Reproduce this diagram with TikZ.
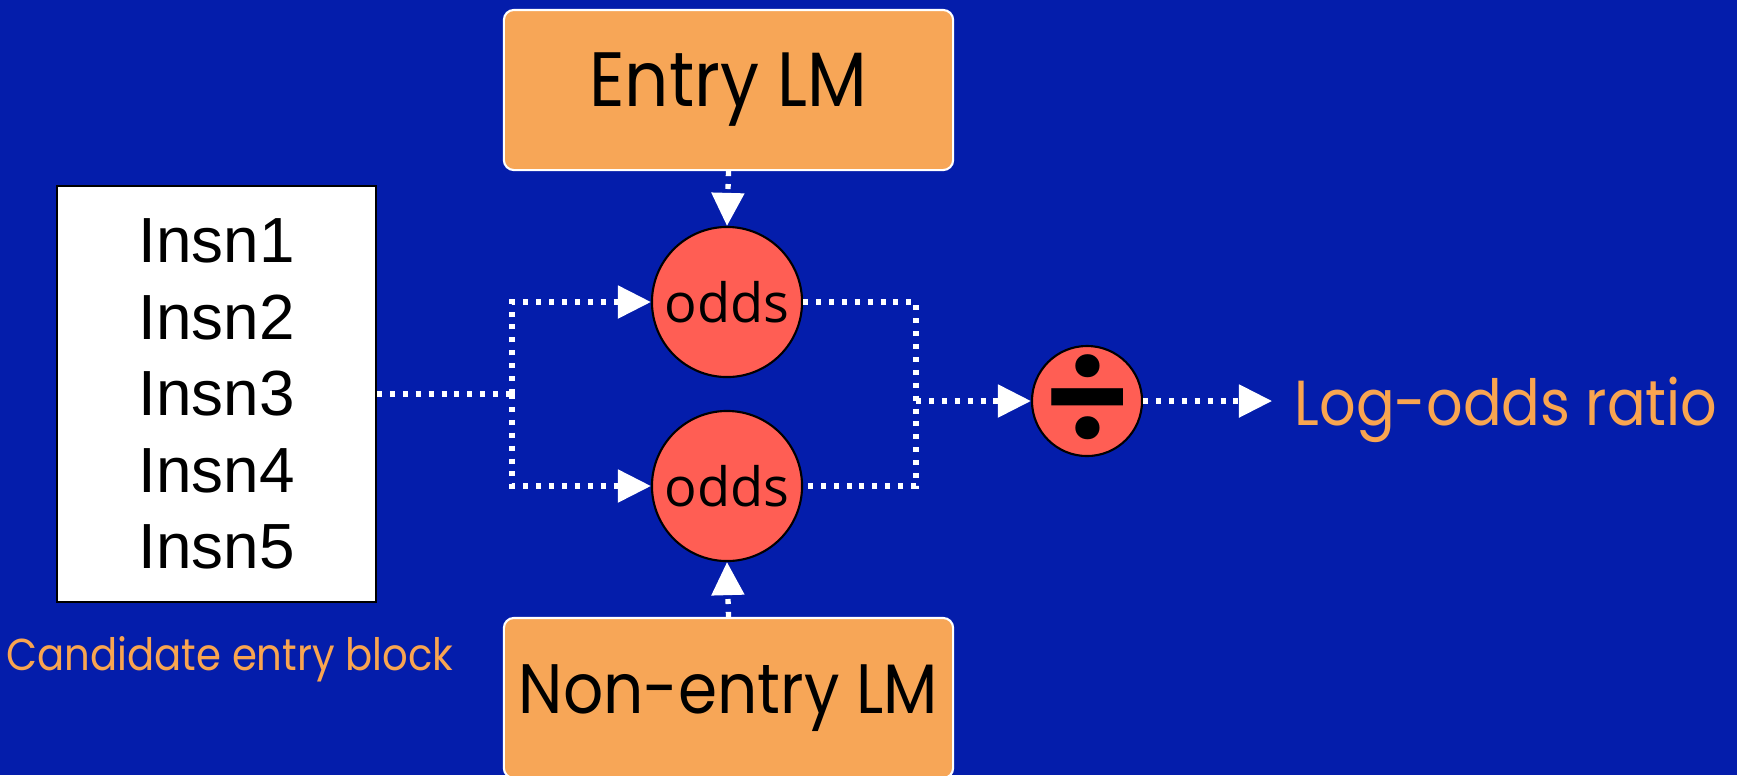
\documentclass[tikz,border=0pt]{standalone}
\usepackage{fontspec}
\setmainfont{Liberation Sans}
\newfontfamily\handfont[FakeStretch=0.9]{Poppins}
\newfontfamily\signfont{Poppins SemiBold}
\newfontfamily\oddsfont{Open Sans}
\usetikzlibrary{arrows.meta,positioning}
\definecolor{slideblue}{RGB}{4,29,171}
\definecolor{lmorange}{RGB}{247,166,87}
\definecolor{oddsred}{RGB}{255,94,84}
\definecolor{labelorange}{RGB}{249,165,80}

\begin{document}
\begin{tikzpicture}[x=0.01cm,y=-0.01cm,
  lmbox/.style={fill=lmorange,draw=white,line width=0.6pt,rounded corners=0.1cm,inner sep=0pt,
    minimum width=4.49cm,minimum height=1.6cm},
  oddsnode/.style={circle,fill=oddsred,draw=black,line width=0.6pt,inner sep=0pt,
    minimum size=1.5cm,font=\oddsfont\fontsize{15.4}{18}\selectfont},
  flow/.style={draw=white,line width=0.053cm,dash pattern=on 0.05cm off 0.079cm},
  flowto/.style={flow,-{Triangle[length=0.33cm,width=0.32cm]}},
  label/.style={text=labelorange,inner sep=0pt}]
  \fill[slideblue] (0,0) rectangle (1737,775);
  \useasboundingbox (0,0) rectangle (1737,775);

  \node[lmbox,font=\handfont\fontsize{21.9}{24}\selectfont] (entry) at (728.5,90) {Entry LM};
  \node[lmbox,font=\handfont\fontsize{19.9}{24}\selectfont] (nonentry) at (728.5,698) {Non-entry LM};

  \node[fill=white,draw=black,line width=0.5pt,minimum width=3.19cm,minimum height=4.16cm,
    align=center,font=\fontsize{18.15}{21.77}\selectfont] (blk) at (216.5,394)
    {Insn1\\Insn2\\Insn3\\Insn4\\Insn5};
  \node[label,anchor=base,font=\handfont\fontsize{12.7}{15}\selectfont] (cand) at (230,670)
    {Candidate entry block};

  \node[oddsnode] (odds1) at (727,302) {odds};
  \node[oddsnode] (odds2) at (727,486) {odds};
  \node[oddsnode,minimum size=1.1cm] (div) at (1087,401) {};
  \node[inner sep=0pt,font=\signfont\fontsize{40}{40}\selectfont] (divsign) at (div.center) {÷};
  \node[label,anchor=base west,font=\handfont\fontsize{18.1}{22}\selectfont] (ratio) at (1294,425)
    {Log-odds ratio};

  \coordinate (splitL) at (512,394);
  \coordinate (joinR) at (916,401);

  \draw[flow] (blk.east) -- (splitL);
  \draw[flowto] (splitL) |- (odds1.west);
  \draw[flowto] (splitL) |- (odds2.west);
  \draw[flowto] (entry.south) -- (odds1.north);
  \draw[flowto] (nonentry.north) -- (odds2.south);
  \draw[flow] (odds1.east) -| (joinR) |- (odds2.east);
  \draw[flowto] (joinR) -- (div.west);
  \draw[flowto,shorten >=0.22cm] (div.east) -- (div.east -| ratio.west);
\end{tikzpicture}
\end{document}
